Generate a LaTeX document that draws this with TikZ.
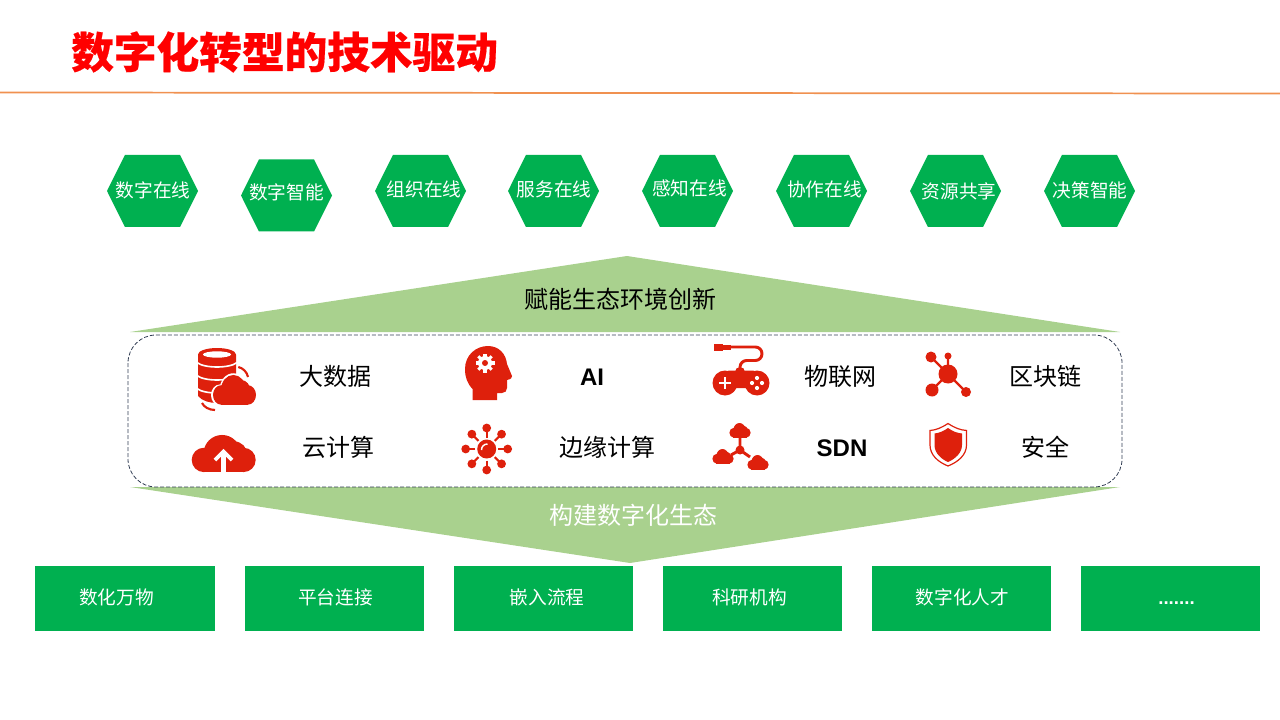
\documentclass[tikz,border=0pt]{standalone}
\usepackage{fontspec}
\setmainfont{Noto Sans CJK SC}[BoldFeatures={FakeBold=0.4}]
\newfontfamily\arialfont{Liberation Sans}
\usetikzlibrary{calc,positioning,shapes.symbols}
\definecolor{cgreen}{RGB}{0,176,80}
\definecolor{lgreen}{RGB}{169,209,142}
\definecolor{cred}{RGB}{222,32,12}
\definecolor{corange}{RGB}{237,125,49}
\definecolor{cnavy}{RGB}{50,62,84}

\tikzset{
  hexnode/.style={signal,signal to=east and west,signal pointer angle=127,fill=cgreen,
    minimum width=68.25pt,minimum height=54pt,inner sep=0pt},
  boxnode/.style={fill=cgreen,inner sep=0pt,outer sep=0pt},
  boxlabel/.style={text=white,inner sep=0pt,font=\fontsize{14}{16}\selectfont},
  techlabel/.style={text=black,inner sep=0pt,font=\fontsize{18}{20}\selectfont},
  iconred/.style={color=cred},
  cloudicon/.pic={
    \fill (-.62,.06) circle [radius=.38];
    \fill (.62,.06) circle [radius=.38];
    \fill (-.05,-.14) circle [radius=.58];
    \fill (.32,-.1) circle [radius=.42];
    \fill (-.62,-.1) rectangle (.62,.44);
  }
}

\begin{document}
\begin{tikzpicture}[x=.75pt,y=-.75pt]
\useasboundingbox (0,0) rectangle (1280,720);

% title and rule
\node (title) [anchor=west,inner sep=0pt,text=red,font=\fontsize{32}{36}\selectfont\bfseries] at (71,52) {数字化转型的技术驱动};
\draw [corange!85!white,line width=1.3pt] (0,92.5) -- (1280,93.5);

% top row
\def\hexlist{
152.5/191/153/190/数字在线,
286.5/195.5/286.5/192/数字智能,
420.5/191/424/189/组织在线,
553.5/191/554/189/服务在线,
687.5/191/689.5/188/感知在线,
821.5/191/824.5/189/协作在线,
955.5/191/959/191/资源共享,
1089.5/191/1090/190/决策智能}
\foreach \x/\y/\lx/\ly/\name [count=\ni] in \hexlist
{
\node (hex\ni) [hexnode] at (\x,\y) {};
\node (hexlabel\ni) [boxlabel] at (\lx,\ly) {\name};
}

% the two green arrows
\fill [lgreen] (130,332) -- (627,256) -- (1120,332) -- cycle;
\fill [lgreen] (130,487) -- (1120,487) -- (630,563) -- cycle;
\node (enable) [techlabel] at (620.5,299) {赋能生态环境创新};
\node (build) [techlabel,text=white] at (633.5,515) {构建数字化生态};

% dashed frame
\draw [cnavy,line width=.6pt,dash pattern=on 3pt off 1.5pt,rounded corners=21pt] (128,335) rectangle (1122,487);

% labels of the frame
\def\techlist{
335/376/大数据,
840/376/物联网,
1045/376/区块链,
338/447/云计算,
607/447/边缘计算,
1045/447/安全}
\foreach \x/\y/\name [count=\ni] in \techlist
\node (tech\ni) [techlabel] at (\x,\y) {\name};
\node (techai) [techlabel,font=\arialfont\bfseries\fontsize{18}{20}\selectfont] at (592,377) {AI};
\node (techsdn) [techlabel,font=\arialfont\bfseries\fontsize{18}{20}\selectfont] at (842,448) {SDN};

% database with cloud
\begin{scope}[iconred]
\fill (198,355) -- (236,355) -- (236,396) .. controls (232,401) and (224,403) .. (217,403) .. controls (210,403) and (202,401) .. (198,396) -- cycle;
\fill (217,354.5) ellipse [x radius=19,y radius=6.5];
\fill [white] (217,354.5) ellipse [x radius=14,y radius=3.2];
\foreach \y in {362.5,375.5,388.5}
\draw [white,line width=1.2pt] (197,\y) .. controls (204,\y+6) and (230,\y+6) .. (237,\y);
\pic [white,xscale=23.5,yscale=28] at (234.5,393.4) {cloudicon};
\pic [iconred,xscale=21.5,yscale=25.6] at (234.5,393.4) {cloudicon};
\draw [line width=1.6pt] (238.3,367) .. controls (243,368) and (247,372) .. (248,377);
\draw [line width=1.6pt] (202,403) .. controls (204,407) and (209,410) .. (215,410);
\end{scope}

% head with gear
\begin{scope}[iconred]
\fill (472.5,400) -- (472.5,389) .. controls (467,383) and (465,377) .. (465,369) .. controls (465,355) and (476,346) .. (488,346) .. controls (499,346) and (506,354) .. (507,364) -- (512,376) .. controls (512.5,378) and (511,379) .. (507,380) -- (507,388) .. controls (507,391) and (505,393) .. (502,393) -- (497,393) -- (497,400) -- cycle;
\fill [white] (485,363) circle [radius=7];
\foreach \a in {0,45,...,315}
\draw [white,line width=2.3pt] (485,363) -- ++(\a:9.5);
\fill (485,363) circle [radius=3];
\end{scope}

% game pad
\begin{scope}[iconred]
\fill (725,383) circle [radius=12.5];
\fill (757,383) circle [radius=12.5];
\fill [rounded corners=3pt] (725,370.5) rectangle (757,388);
\fill (740,372) circle [radius=5];
\draw [line width=2.2pt,rounded corners=5pt] (740,370) -- (740,360.5) -- (762,360.5) -- (762,347) -- (728,347);
\fill (713.5,344) rectangle (723,350.5);
\fill (723,345) rectangle (731,349.5);
\draw [white,line width=2.2pt] (719,383) -- (731,383) (725,377) -- (725,389);
\foreach \a in {0,90,180,270}
\fill [white] (757,383) ++(\a:5) circle [radius=2.1];
\end{scope}

% block chain
\begin{scope}[iconred]
\draw [line width=1.7pt] (931,357) -- (948,374) (948,356) -- (948,374) (932,390) -- (948,374) (966,392) -- (948,374);
\fill (948,374) circle [radius=9.5];
\fill (931,357) circle [radius=5.5];
\fill (948,356) circle [radius=3.5];
\fill (932,390) circle [radius=6.5];
\fill (966,392) circle [radius=5];
\end{scope}

% cloud with arrow
\pic [iconred,scale=32] at (223.7,458) {cloudicon};
\draw [white,line width=3.2pt] (223.5,474) -- (223.5,453);
\draw [white,line width=2.8pt] (215,460) -- (223.5,451.5) -- (232,460);

% edge
\begin{scope}[iconred]
\fill (486.7,449) circle [radius=9.5];
\draw [white,line width=1.1pt] (481.5,450) .. controls (481.5,446.5) and (484,444) .. (487.5,444);
\foreach \a in {0,45,...,315}
{
\draw [line width=1.6pt] (486.7,449) ++(\a:11.5) -- ++(\a:7);
\fill (486.7,449) ++(\a:21) circle [radius=4.4];
}
\end{scope}

% three clouds
\begin{scope}[iconred]
\pic [iconred,xscale=10.6,yscale=12.5] at (740,432) {cloudicon};
\pic [iconred,xscale=10.6,yscale=12.5] at (723,458) {cloudicon};
\pic [iconred,xscale=10.6,yscale=12.5] at (758,464) {cloudicon};
\draw [line width=2.2pt] (740,438) -- (740,450) -- (731,455) (740,450) -- (750,457);
\fill (740,450) circle [radius=4.5];
\end{scope}

% shield
\begin{scope}[iconred]
\draw [line width=.9pt,fill=white] (948,423.5) .. controls (941,428) and (936,430) .. (930,430.5) -- (930,445) .. controls (930,455) and (938,462) .. (948,466) .. controls (958,462) and (966.5,455) .. (966.5,445) -- (966.5,430.5) .. controls (960,430) and (955,428) .. (948,423.5) -- cycle;
\fill (948,428) .. controls (943,431.5) and (939,433) .. (934.5,433.5) -- (934.5,445) .. controls (934.5,453) and (941,459) .. (948,462) .. controls (955,459) and (962,453) .. (962,445) -- (962,433.5) .. controls (957,433) and (953,431.5) .. (948,428) -- cycle;
\end{scope}

% bottom row
\def\boxlist{
35/215/116.5/597/数化万物,
245/424/335.5/597/平台连接,
454/633/547/597/嵌入流程,
663/842/749.5/597/科研机构,
872/1051/962.5/597/数字化人才}
\foreach \xa/\xb/\x/\y/\name [count=\ni] in \boxlist
{
\fill [boxnode] (\xa,566) rectangle (\xb,631);
\node (box\ni) [boxlabel] at (\x,\y) {\name};
}
\fill [boxnode] (1081,566) rectangle (1260,631);
\node (box6) [boxlabel,anchor=base,font=\arialfont\bfseries\fontsize{14}{16}\selectfont] at (1176.5,604) {.......};
\end{tikzpicture}
\end{document}
